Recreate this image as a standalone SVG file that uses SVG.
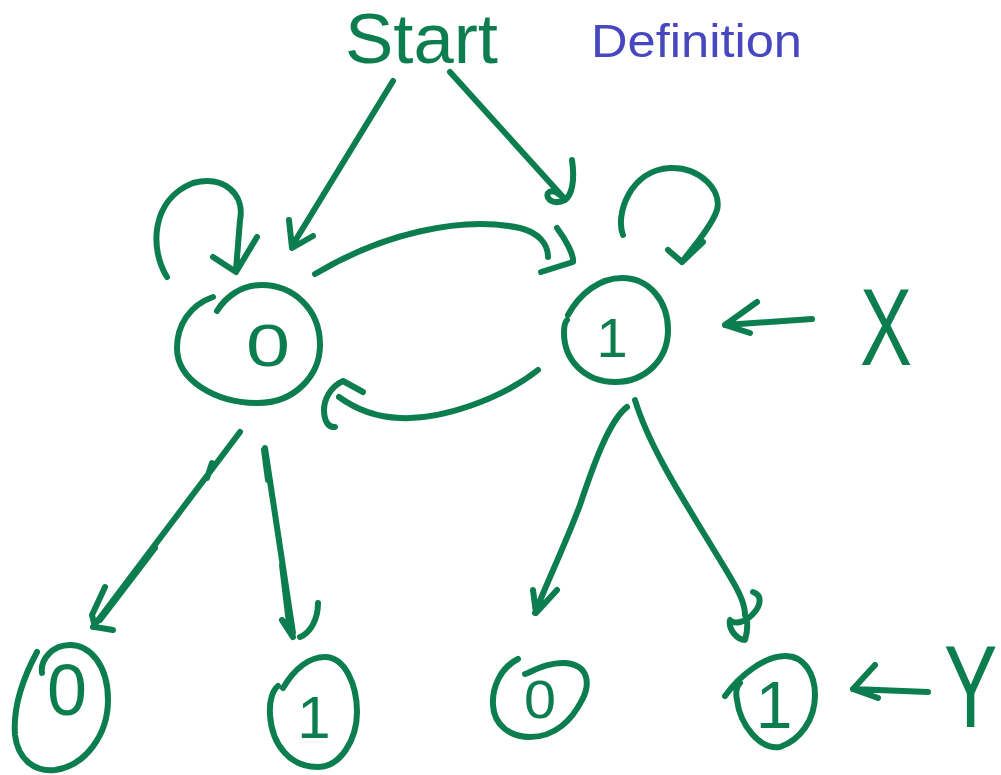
<svg xmlns="http://www.w3.org/2000/svg" width="1001" height="775" viewBox="0 0 1001 775">
<style>
.s{fill:none;stroke:#0b7d4e;stroke-width:6;stroke-linecap:round;stroke-linejoin:round}
.t{fill:#0b7d4e;font-family:"Liberation Sans",Arial,sans-serif}
.d{fill:#4747bf;font-family:"Liberation Sans",Arial,sans-serif}
</style>
<rect width="1001" height="775" fill="#ffffff"/>
<text class="t" x="345" y="63" font-size="70" textLength="153" lengthAdjust="spacingAndGlyphs">Start</text>
<text class="d" x="591" y="57" font-size="47" textLength="211" lengthAdjust="spacingAndGlyphs">Definition</text>

<g id="n0top">
<path class="s" d="M213,297 C190,305 177,325 177,348 C177,380 215,403 258,403 C295,403 320,375 320,345 C320,308 292,285 262,285 C240,285 225,298 217,311"/>
<text class="t" x="268" y="366" font-size="60" text-anchor="middle" textLength="44" lengthAdjust="spacingAndGlyphs">0</text>
</g>
<g id="n1top">
<path class="s" d="M568,315 C580,293 600,278 622,278 C650,278 668,302 668,330 C668,360 645,382 615,382 C585,382 564,360 564,333 C564,326 565,322 567,320"/>
<text class="t" x="612" y="357" font-size="56" text-anchor="middle">1</text>
</g>
<g id="b0">
<path class="s" d="M37,652 C22,680 13,710 15,735 C18,760 35,772 55,770 C85,766 108,735 108,700 C108,665 90,645 70,645 C52,645 40,660 42,673"/>
<text class="t" x="67" y="715" font-size="72" text-anchor="middle" textLength="40" lengthAdjust="spacingAndGlyphs">0</text>
</g>
<g id="b1">
<path class="s" d="M283,688 C295,668 310,657 325,657 C345,657 357,685 357,712 C357,740 340,767 318,767 C290,767 272,745 270,715 C269,700 273,690 278,686"/>
<text class="t" x="314" y="738" font-size="60" text-anchor="middle">1</text>
</g>
<g id="b2">
<path class="s" d="M518,659 C500,668 492,688 493,705 C494,725 510,737 530,737 C555,737 572,720 582,700 C590,685 590,665 565,663 C550,662 535,670 525,674"/>
<text class="t" x="540" y="718" font-size="53" text-anchor="middle" textLength="32" lengthAdjust="spacingAndGlyphs">0</text>
</g>
<g id="b3">
<path class="s" d="M725,696 C740,675 765,656 785,656 C805,656 815,675 815,695 C815,720 800,740 780,747 C760,750 740,725 737,700 C735,690 738,685 740,683"/>
<text class="t" x="774" y="728" font-size="66" text-anchor="middle">1</text>
</g>
<g id="labelX">
<text class="t" x="860" y="365" font-size="110" textLength="52" lengthAdjust="spacingAndGlyphs">X</text>
</g>
<g id="labelY">
<text class="t" transform="translate(944,727) scale(1,1.46)" x="0" y="0" font-size="80">Y</text>
</g>

<g id="connectors">
<path class="s" d="M393,81 L292,246 M289,220 L292,248 L313,236"/>
<path class="s" d="M450,72 L563,197 M572,160 C575,180 572,195 565,200 C555,205 545,200 548,193 C552,188 562,195 565,200"/>
<path class="s" d="M167,277 C150,250 150,200 193,183 C225,175 245,195 240,220 L236,270 M213,257 L236,272 L257,237"/>
<path class="s" d="M315,274 C380,235 460,215 520,228 C540,233 548,245 548,257 M557,228 C566,240 574,255 573,262 L541,272"/>
<path class="s" d="M538,370 C500,400 440,420 400,418 C370,417 350,405 339,397 M363,392 L343,381 C330,387 324,400 324,410 C324,420 328,428 335,427"/>
<path class="s" d="M623,235 C615,215 630,170 670,168 C700,167 722,190 717,210 C712,225 695,245 682,262 M668,250 L682,262 L703,242"/>
<path class="s" d="M812,319 L725,325 M757,302 L725,325 L750,333"/>
<path class="s" d="M240,432 L93,627 M212,463 L207,478 M155,548 L100,620 M105,587 L92,615 L95,627 L113,630"/>
<path class="s" d="M265,448 L293,633 M282,565 L290,632 M282,620 L293,637 M318,603 C318,620 310,633 300,637"/>
<path class="s" stroke-width="9" d="M264,450 L268,480"/>
<path class="s" d="M627,407 C610,420 595,460 580,505 C565,545 548,580 535,613 M533,590 L536,613 L557,590"/>
<path class="s" d="M635,400 C650,450 690,510 720,560 C735,585 745,600 745,615 M753,592 C762,595 762,605 752,615 C745,622 735,625 730,620 C728,630 738,640 745,640 C748,630 748,620 745,615"/>
<path class="s" d="M928,692 L853,689 M875,665 L853,689 L878,698"/>
</g>
</svg>
